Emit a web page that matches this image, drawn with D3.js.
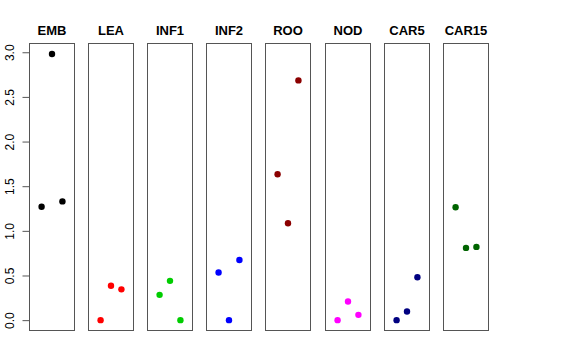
<!DOCTYPE html>
<html><head><meta charset="utf-8">
<script src="https://cdn.jsdelivr.net/npm/d3@7"></script>
<style>body{margin:0;background:#fff}svg{display:block}</style>
</head><body>
<script>
const panels = ["EMB","LEA","INF1","INF2","ROO","NOD","CAR5","CAR15"];
const colors = ["#000000","#FF0000","#00CD00","#0000FF","#8B0000","#FF00FF","#000080","#006400"];
const xIndex = [1,2,3];
const EMB = [1.27, 2.98, 1.33];
const LEA = [0.0, 0.385, 0.345];
const INF1 = [0.283, 0.44, 0.0];
const INF2 = [0.533, 0.0, 0.674];
const ROO = [1.633, 1.085, 2.685];
const NOD = [0.0, 0.208, 0.059];
const CAR5 = [0.0, 0.096, 0.481];
const CAR15 = [1.264, 0.809, 0.82];
const values = [EMB, LEA, INF1, INF2, ROO, NOD, CAR5, CAR15];
const yTicks = [0, 0.5, 1, 1.5, 2, 2.5, 3];

const W = 576, H = 360;
const svg = d3.select("body").append("svg").attr("width", W).attr("height", H);

const plotTop = 43.5, plotBottom = 330.5;
const y = d3.scaleLinear().domain([-0.116, 3.098]).range([plotBottom, plotTop]);
const panelX = d3.scaleBand().domain(panels).range([29, 488]).paddingInner(0.234).paddingOuter(0);

panels.forEach((p, i) => {
  const x0 = Math.round(panelX(p)) + 0.5;
  const bw = Math.round(panelX.bandwidth());
  const x = d3.scaleLinear().domain([-0.16, 4.16]).range([x0, x0 + bw]);
  const g = svg.append("g");
  g.selectAll("circle").data(values[i]).join("circle")
    .attr("cx", (d, j) => x(xIndex[j]))
    .attr("cy", d => y(d))
    .attr("r", 3.2)
    .attr("fill", colors[i]);
  g.append("rect").attr("x", x0).attr("y", plotTop).attr("width", bw).attr("height", plotBottom - plotTop)
    .attr("fill", "none").attr("stroke", "#555").attr("stroke-width", 1);
  g.append("text").attr("x", x0 + bw / 2).attr("y", 35)
    .attr("text-anchor", "middle").attr("font-family", "Liberation Sans, Arial, sans-serif")
    .attr("font-weight", "bold").attr("font-size", 13).text(p);
  if (i === 0) {
    const ax = svg.append("g").attr("transform", `translate(${x0},0)`)
      .call(d3.axisLeft(y).tickValues(yTicks).tickFormat(d3.format(".1f")).tickSize(7).tickPadding(4));
    ax.select(".domain").attr("stroke", "#555").attr("d", `M0,${y(0)}V${y(3)}`);
    ax.selectAll(".tick line").attr("stroke", "#555");
    ax.selectAll(".tick text")
      .attr("font-family", "Liberation Sans, Arial, sans-serif").attr("font-size", 12).attr("fill", "#000")
      .attr("text-anchor", "middle").attr("dy", null)
      .attr("transform", "rotate(-90)").attr("x", 0).attr("y", -15.5);
  }
});
</script>
</body></html>
